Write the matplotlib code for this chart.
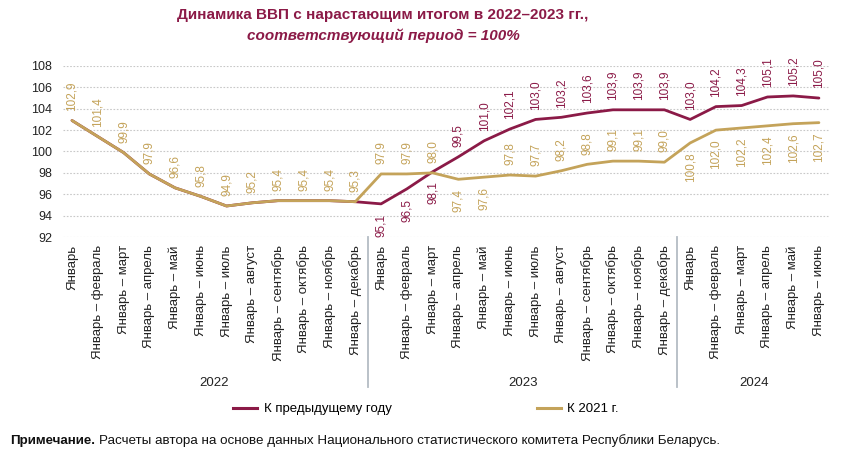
import numpy as np
import matplotlib.pyplot as plt
import matplotlib.transforms as mtransforms
from matplotlib.lines import Line2D

plt.rcParams['font.family'] = ['Liberation Sans', 'DejaVu Sans']

months = ['Январь', 'Январь – февраль', 'Январь – март', 'Январь – апрель',
          'Январь – май', 'Январь – июнь', 'Январь – июль', 'Январь – август',
          'Январь – сентябрь', 'Январь – октябрь', 'Январь – ноябрь',
          'Январь – декабрь']
years = ['2022', '2023', '2024']
labels = months + months + months[:6]

# К 2021 г.
base2021 = [102.9, 101.4, 99.9, 97.9, 96.6, 95.8, 94.9, 95.2, 95.4, 95.4, 95.4, 95.3,
            97.9, 97.9, 98.0, 97.4, 97.6, 97.8, 97.7, 98.2, 98.8, 99.1, 99.1, 99.0,
            100.8, 102.0, 102.2, 102.4, 102.6, 102.7]
# К предыдущему году (в 2022 совпадает с базой 2021)
prev_year = [102.9, 101.4, 99.9, 97.9, 96.6, 95.8, 94.9, 95.2, 95.4, 95.4, 95.4, 95.3,
             95.1, 96.5, 98.1, 99.5, 101.0, 102.1, 103.0, 103.2, 103.6, 103.9, 103.9, 103.9,
             103.0, 104.2, 104.3, 105.1, 105.2, 105.0]
# положение подписей: 1 - сверху, -1 - снизу
gold_pos = [1] * 12 + [1, 1, 1, -1, -1, 1, 1, 1, 1, 1, 1, 1] + [-1] * 6
maroon_pos = [-1, -1, -1] + [1] * 15

maroon = '#8b1a47'
gold = '#c4a35a'

fig = plt.figure(figsize=(8.49, 4.59), dpi=100)
ax = fig.add_axes([63 / 849, 1 - 237 / 459, (830 - 63) / 849, (237 - 66) / 459])

x = np.arange(len(labels))
ax.plot(x, prev_year, color=maroon, lw=2.0, solid_capstyle='round', zorder=3)
ax.plot(x, base2021, color=gold, lw=2.0, solid_capstyle='round', zorder=4)

for i, (v, p) in enumerate(zip(base2021, gold_pos)):
    ax.annotate(f'{v:.1f}'.replace('.', ','), (i, v), xytext=(0, 7 * p),
                textcoords='offset points', rotation=90, ha='center',
                va='bottom' if p > 0 else 'top', fontsize=8.5, color=gold)
for i, (v, p) in enumerate(zip(prev_year[12:], maroon_pos)):
    ax.annotate(f'{v:.1f}'.replace('.', ','), (i + 12, v), xytext=(0, 7 * p),
                textcoords='offset points', rotation=90, ha='center',
                va='bottom' if p > 0 else 'top', fontsize=8.5, color=maroon)

ax.set_ylim(92, 108)
ax.set_yticks(range(92, 109, 2))
ax.set_xlim(-0.35, 29.43)
ax.set_xticks(x)
ax.set_xticklabels(labels, rotation=90, va='top', ha='center', fontsize=9.5)
ax.tick_params(axis='both', length=0, colors='#222222')
ax.tick_params(axis='y', labelsize=9, pad=8)
ax.tick_params(axis='x', pad=6)
ax.grid(axis='y', color='#c8c8c8', lw=0.8, ls=(0, (1.5, 1.5)))
ax.grid(axis='x', visible=False)
for s in ax.spines.values():
    s.set_visible(False)

trans = mtransforms.blended_transform_factory(ax.transData, ax.transAxes)
for sep in [11.5, 23.5]:
    ax.plot([sep, sep], [0, -0.88], transform=trans, color='#b4bcc4', lw=1.3, clip_on=False)
for yr, cx in zip(years, [5.5, 17.5, 26.5]):
    ax.text(cx, -0.855, yr, transform=trans, ha='center', va='center', fontsize=9.5, color='#222222')

handles = [Line2D([], [], color=maroon, lw=2.2), Line2D([], [], color=gold, lw=2.2)]
fig.legend(handles, ['К предыдущему году', 'К 2021 г.'], loc='center',
           bbox_to_anchor=(426 / 849, 1 - 409 / 459), ncol=2, frameon=False,
           fontsize=9.5, handlelength=1.8, handletextpad=0.5, columnspacing=11)

fig.text(383 / 849, 1 - 15 / 459, 'Динамика ВВП с нарастающим итогом в 2022–2023 гг.,',
         ha='center', va='center', fontsize=11, fontweight='bold', color=maroon)
fig.text(383 / 849, 1 - 36 / 459, 'соответствующий период = 100%',
         ha='center', va='center', fontsize=11, fontweight='bold', style='italic', color=maroon)

note = fig.text(10 / 849, 1 - 441 / 459, 'Примечание.', ha='left', va='center',
                fontsize=9.6, fontweight='bold', color='#111111')
renderer = fig.canvas.get_renderer()
bb = note.get_window_extent(renderer)
fig.text((bb.x1 + 4) / 849, 1 - 441 / 459,
         'Расчеты автора на основе данных Национального статистического комитета Республики Беларусь.',
         ha='left', va='center', fontsize=9.6, color='#111111')

fig.savefig('out.png', dpi=100)
